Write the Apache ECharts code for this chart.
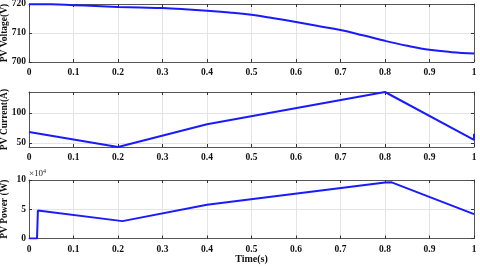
<!DOCTYPE html>
<html>
<head>
<meta charset="utf-8">
<script src="https://cdn.jsdelivr.net/npm/echarts@6/dist/echarts.min.js"></script>
<style>html,body{margin:0;padding:0;background:#fff;}#c{width:480px;height:266px;}</style>
</head>
<body>
<div id="c"></div>
<script>
// Shared x ticks
const timeTicks = [0, 0.1, 0.2, 0.3, 0.4, 0.5, 0.6, 0.7, 0.8, 0.9, 1];

// PV Voltage (V)
const voltageTime = [0, 0.05, 0.1, 0.15, 0.2, 0.25, 0.3, 0.35, 0.4, 0.45, 0.5, 0.55, 0.6, 0.65, 0.7, 0.75, 0.8, 0.85, 0.9, 0.95, 1.0];
const voltageValues = [719.9, 719.9, 719.6, 719.3, 719.0, 718.8, 718.6, 718.2, 717.7, 717.1, 716.3, 715.1, 713.8, 712.4, 711.0, 709.2, 707.3, 705.6, 704.2, 703.4, 702.9];

// PV Current (A)
const currentTime = [0, 0.2, 0.4, 0.8, 1.0, 1.0];
const currentValues = [68, 43, 81, 135, 55, 65];

// PV Power (W)
const powerTime = [0, 0.018, 0.02, 0.21, 0.4, 0.8, 0.815, 1.0];
const powerValues = [0, 0, 48000, 29700, 57600, 95700, 96000, 41700];

const FONT = '"Liberation Serif", "Times New Roman", serif';
const AXC = '#555555';
const GRIDC = '#e4e4e4';
const LINEC = '#1a1aff';
const TICKFS = 9.5;
const NAMEFS = 9.5;

const grids = [
  {left: 29, right: 6, top: 4, height: 58, outerBoundsMode: 'none', containLabel: false},
  {left: 29, right: 6, top: 92, height: 55, outerBoundsMode: 'none', containLabel: false},
  {left: 29, right: 6, top: 180, height: 58.5, outerBoundsMode: 'none', containLabel: false}
];

function pairs(t, v) { return t.map((x, i) => [x, v[i]]); }

const xAxes = [], yAxes = [];
const yCfg = [
  {min: 700, max: 720, interval: 10, name: 'PV Voltage(V)', fmt: v => v},
  {min: 43, max: 135, interval: 50, name: 'PV Current(A)', fmt: v => v},
  {min: 0, max: 100000, interval: 50000, name: 'PV Power (W)', fmt: v => v / 10000}
];
yCfg.forEach((c, i) => {
  xAxes.push({
    gridIndex: i, type: 'value', min: 0, max: 1, interval: 0.1, position: 'bottom',
    name: i === 2 ? 'Time(s)' : '', nameLocation: 'middle', nameGap: 16, nameMoveOverlap: false,
    nameTextStyle: {fontFamily: FONT, fontWeight: 'bold', fontSize: 10, color: '#111'},
    axisLine: {show: true, onZero: false, lineStyle: {color: AXC, width: 1}},
    axisTick: {show: true, inside: true, length: 3, lineStyle: {color: '#333'}},
    axisLabel: {fontFamily: FONT, fontWeight: 'bold', fontSize: TICKFS, color: '#111', margin: 6,
      formatter: v => (Math.abs(v - 1) < 1e-9 ? '1' : (Math.abs(v) < 1e-9 ? '0' : v.toFixed(1)))},
    splitLine: {show: true, lineStyle: {color: GRIDC, width: 1}}
  });
  xAxes.push({
    gridIndex: i, type: 'value', min: 0, max: 1, interval: 0.1, position: 'top',
    axisLine: {show: true, onZero: false, lineStyle: {color: AXC, width: 1}},
    axisTick: {show: true, inside: true, length: 3, lineStyle: {color: '#333'}},
    axisLabel: {show: false}, splitLine: {show: false}
  });
  yAxes.push({
    gridIndex: i, type: 'value', min: c.min, max: c.max, position: 'left',
    interval: c.interval,
    name: c.name, nameLocation: 'middle', nameGap: 19, nameRotate: 90, nameMoveOverlap: false,
    nameTextStyle: {fontFamily: FONT, fontWeight: 'bold', fontSize: NAMEFS, color: '#111'},
    axisLine: {show: true, onZero: false, lineStyle: {color: AXC, width: 1}},
    axisTick: {show: true, inside: true, length: 3, lineStyle: {color: '#333'},
      customValues: i === 1 ? [50, 100] : undefined},
    axisLabel: {fontFamily: FONT, fontWeight: 'bold', fontSize: TICKFS, color: '#111', margin: 3,
      formatter: c.fmt, customValues: i === 1 ? [50, 100] : undefined},
    splitLine: {show: true, lineStyle: {color: GRIDC, width: 1}}
  });
  yAxes.push({
    gridIndex: i, type: 'value', min: c.min, max: c.max, position: 'right',
    interval: c.interval,
    axisLine: {show: true, onZero: false, lineStyle: {color: AXC, width: 1}},
    axisTick: {show: true, inside: true, length: 3, lineStyle: {color: '#333'},
      customValues: i === 1 ? [50, 100] : undefined},
    axisLabel: {show: false}, splitLine: {show: false}
  });
});

const seriesData = [pairs(voltageTime, voltageValues), pairs(currentTime, currentValues), pairs(powerTime, powerValues)];

const chart = echarts.init(document.getElementById('c'), null, {renderer: 'canvas'});
chart.setOption({
  animation: false,
  backgroundColor: '#fff',
  grid: grids,
  xAxis: xAxes,
  yAxis: yAxes,
  graphic: [{
    type: 'text', left: 29, top: 168,
    style: {
      text: '×10{s|4}', fontFamily: FONT, fontSize: 9, fill: '#222',
      rich: {s: {fontSize: 6, verticalAlign: 'top', padding: [0, 0, 5, 0], fontFamily: FONT}}
    }
  }],
  series: seriesData.map((d, i) => ({
    type: 'line', xAxisIndex: i * 2, yAxisIndex: i * 2, data: d,
    showSymbol: false, symbol: 'none', smooth: i === 0 ? 0.4 : false,
    lineStyle: {color: LINEC, width: 2}, clip: true
  }))
});
</script>
</body>
</html>
